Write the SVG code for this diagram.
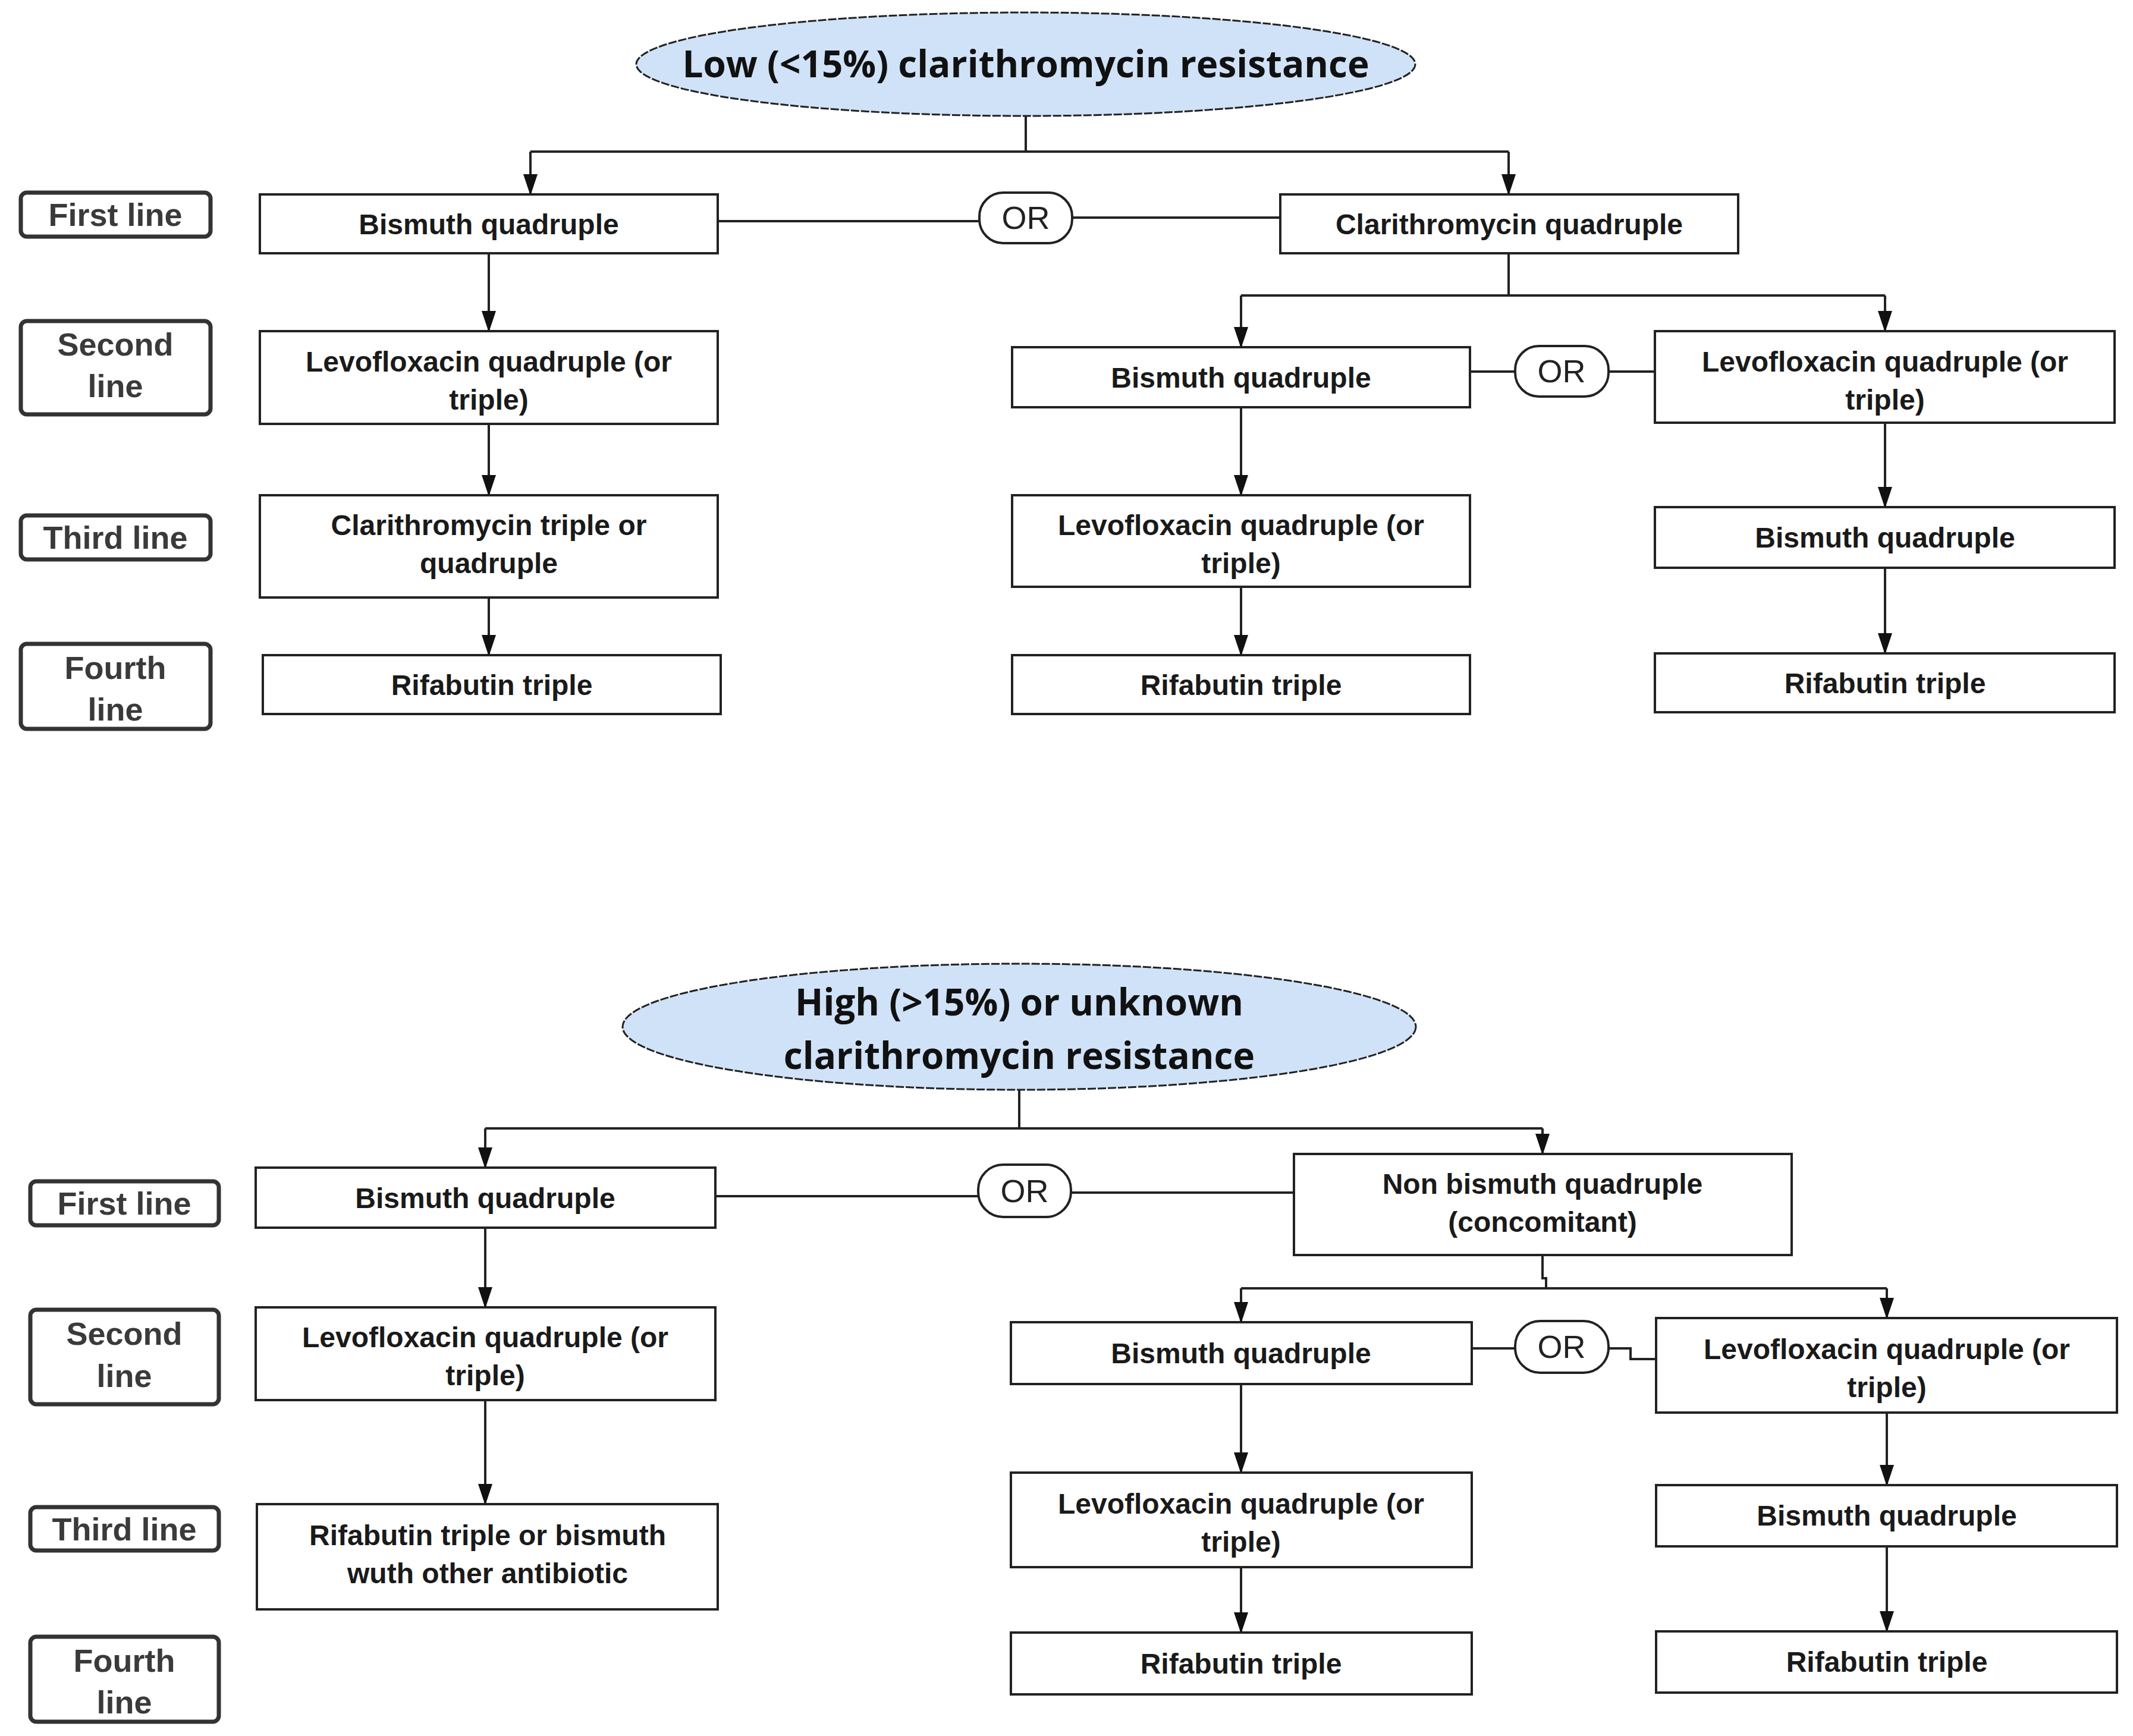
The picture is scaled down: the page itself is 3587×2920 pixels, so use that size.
<svg xmlns="http://www.w3.org/2000/svg" width="3587" height="2920" viewBox="0 0 3587 2920">
<style>
.box{fill:#fff;stroke:#222;stroke-width:4}
.lbl{fill:#fff;stroke:#333;stroke-width:7}
.or{fill:#fff;stroke:#222;stroke-width:4}
.ell{fill:#cfe2f8;stroke:#222;stroke-width:3;stroke-dasharray:14 3}
.t{font-family:"Liberation Sans",Arial,sans-serif;font-weight:bold;font-size:48px;fill:#1a1a1a;text-anchor:middle}
.lt{font-family:"Liberation Sans",Arial,sans-serif;font-weight:bold;font-size:54px;fill:#3a3a3a;text-anchor:middle}
.ot{font-family:"Liberation Sans",Arial,sans-serif;font-size:54px;fill:#222;text-anchor:middle}
.et{font-family:"Open Sans","Liberation Sans",sans-serif;font-weight:bold;font-size:62px;fill:#111;text-anchor:middle}
.c{fill:none;stroke:#222;stroke-width:4}
.a{marker-end:url(#ah)}
</style>
<defs>
<marker id="ah" markerUnits="userSpaceOnUse" markerWidth="24" markerHeight="36" refX="12" refY="34" orient="auto-start-reverse" viewBox="0 0 24 36">
<path d="M0,0 L24,0 L12,36 Z" fill="#111" transform="rotate(-90 12 18) translate(0 0)"/>
</marker>
</defs>
<defs>
<marker id="ah2" markerUnits="userSpaceOnUse" markerWidth="36" markerHeight="24" refX="34" refY="12" orient="auto" viewBox="0 0 36 24">
<path d="M0,0 L36,12 L0,24 Z" fill="#111"/>
</marker>
</defs>
<style>.a{marker-end:url(#ah2)}</style>

<g id="connectors">
<path class="c" d="M1725,196 V255 M892,255 H2537"/>
<path class="c a" d="M892,255 V327"/>
<path class="c a" d="M2537,255 V327"/>
<path class="c" d="M1207,372 H1647 M1803,366 H2153"/>
<path class="c" d="M2537,426 V497 M2087,497 H3170"/>
<path class="c a" d="M2087,497 V584"/>
<path class="c a" d="M3170,497 V557"/>
<path class="c" d="M2472,625 H2548 M2705,625 H2783"/>
<path class="c a" d="M822,426 V557"/>
<path class="c a" d="M822,713 V833"/>
<path class="c a" d="M822,1005 V1102"/>
<path class="c a" d="M2087,685 V833"/>
<path class="c a" d="M2087,987 V1102"/>
<path class="c a" d="M3170,711 V853"/>
<path class="c a" d="M3170,955 V1099"/>

<path class="c" d="M1714,1833 V1898 M816,1898 H2594"/>
<path class="c a" d="M816,1898 V1964"/>
<path class="c a" d="M2594,1898 V1941"/>
<path class="c" d="M1203,2012 H1645 M1801,2006 H2176"/>
<path class="c" d="M2594,2111 V2150 H2600 V2167 M2087,2167 H3173"/>
<path class="c a" d="M2087,2167 V2224"/>
<path class="c a" d="M3173,2167 V2217"/>
<path class="c" d="M2475,2268 H2548 M2705,2268 H2742 V2286 H2785"/>
<path class="c a" d="M816,2065 V2199"/>
<path class="c a" d="M816,2355 V2530"/>
<path class="c a" d="M2087,2328 V2477"/>
<path class="c a" d="M2087,2636 V2746"/>
<path class="c a" d="M3173,2376 V2498"/>
<path class="c a" d="M3173,2601 V2744"/>
</g>

<g id="title-low"><ellipse class="ell" cx="1725" cy="108" rx="655" ry="87"/><text class="et" x="1725" y="130">Low (&lt;15%) clarithromycin resistance</text></g>
<g id="lbl1-first"><rect class="lbl" x="35" y="324" width="319" height="74" rx="10"/><text class="lt" x="194" y="380">First line</text></g>
<g id="lbl1-second"><rect class="lbl" x="35" y="540" width="319" height="157" rx="10"/><text class="lt" x="194" y="598">Second</text><text class="lt" x="194" y="668">line</text></g>
<g id="lbl1-third"><rect class="lbl" x="35" y="867" width="319" height="74" rx="10"/><text class="lt" x="194" y="923">Third line</text></g>
<g id="lbl1-fourth"><rect class="lbl" x="35" y="1083" width="319" height="143" rx="10"/><text class="lt" x="194" y="1142">Fourth</text><text class="lt" x="194" y="1212">line</text></g>

<g id="a1"><rect class="box" x="437" y="327" width="770" height="99"/><text class="t" x="822" y="394">Bismuth quadruple</text></g>
<g id="a2"><rect class="box" x="437" y="557" width="770" height="156"/><text class="t" x="822" y="625">Levofloxacin quadruple (or</text><text class="t" x="822" y="689">triple)</text></g>
<g id="a3"><rect class="box" x="437" y="833" width="770" height="172"/><text class="t" x="822" y="900">Clarithromycin triple  or</text><text class="t" x="822" y="964">quadruple</text></g>
<g id="a4"><rect class="box" x="442" y="1102" width="770" height="99"/><text class="t" x="827" y="1169">Rifabutin triple</text></g>
<g id="b1"><rect class="box" x="2153" y="327" width="770" height="99"/><text class="t" x="2538" y="394">Clarithromycin quadruple</text></g>
<g id="or1"><rect class="or" x="1647" y="324" width="156" height="85" rx="40"/><text class="ot" x="1725" y="385">OR</text></g>
<g id="c1"><rect class="box" x="1702" y="584" width="770" height="101"/><text class="t" x="2087" y="652">Bismuth quadruple</text></g>
<g id="or2"><rect class="or" x="2548" y="582" width="157" height="85" rx="40"/><text class="ot" x="2626" y="643">OR</text></g>
<g id="c2"><rect class="box" x="1702" y="833" width="770" height="154"/><text class="t" x="2087" y="900">Levofloxacin quadruple (or</text><text class="t" x="2087" y="964">triple)</text></g>
<g id="c3"><rect class="box" x="1702" y="1102" width="770" height="99"/><text class="t" x="2087" y="1169">Rifabutin triple</text></g>
<g id="d1"><rect class="box" x="2783" y="557" width="773" height="154"/><text class="t" x="3170" y="625">Levofloxacin quadruple (or</text><text class="t" x="3170" y="689">triple)</text></g>
<g id="d2"><rect class="box" x="2783" y="853" width="773" height="102"/><text class="t" x="3170" y="921">Bismuth quadruple</text></g>
<g id="d3"><rect class="box" x="2783" y="1099" width="773" height="99"/><text class="t" x="3170" y="1166">Rifabutin triple</text></g>

<g id="title-high"><ellipse class="ell" cx="1714" cy="1727" rx="667" ry="106"/><text class="et" x="1714" y="1708">High (&gt;15%) or unknown</text><text class="et" x="1714" y="1798">clarithromycin resistance</text></g>
<g id="lbl2-first"><rect class="lbl" x="51" y="1987" width="317" height="74" rx="10"/><text class="lt" x="209" y="2043">First line</text></g>
<g id="lbl2-second"><rect class="lbl" x="51" y="2203" width="317" height="159" rx="10"/><text class="lt" x="209" y="2262">Second</text><text class="lt" x="209" y="2333">line</text></g>
<g id="lbl2-third"><rect class="lbl" x="51" y="2535" width="317" height="73" rx="10"/><text class="lt" x="209" y="2591">Third line</text></g>
<g id="lbl2-fourth"><rect class="lbl" x="51" y="2753" width="317" height="143" rx="10"/><text class="lt" x="209" y="2812">Fourth</text><text class="lt" x="209" y="2882">line</text></g>

<g id="e1"><rect class="box" x="430" y="1964" width="773" height="101"/><text class="t" x="816" y="2032">Bismuth quadruple</text></g>
<g id="e2"><rect class="box" x="430" y="2199" width="773" height="156"/><text class="t" x="816" y="2266">Levofloxacin quadruple (or</text><text class="t" x="816" y="2330">triple)</text></g>
<g id="e3"><rect class="box" x="432" y="2530" width="775" height="177"/><text class="t" x="820" y="2599">Rifabutin triple or bismuth</text><text class="t" x="820" y="2663">wuth other antibiotic</text></g>
<g id="or3"><rect class="or" x="1645" y="1959" width="156" height="88" rx="42"/><text class="ot" x="1723" y="2022">OR</text></g>
<g id="f1"><rect class="box" x="2176" y="1941" width="837" height="170"/><text class="t" x="2594" y="2008">Non bismuth quadruple</text><text class="t" x="2594" y="2072">(concomitant)</text></g>
<g id="g1"><rect class="box" x="1700" y="2224" width="775" height="104"/><text class="t" x="2087" y="2293">Bismuth quadruple</text></g>
<g id="or4"><rect class="or" x="2548" y="2222" width="157" height="87" rx="42"/><text class="ot" x="2626" y="2284">OR</text></g>
<g id="g2"><rect class="box" x="1700" y="2477" width="775" height="159"/><text class="t" x="2087" y="2546">Levofloxacin quadruple (or</text><text class="t" x="2087" y="2610">triple)</text></g>
<g id="g3"><rect class="box" x="1700" y="2746" width="775" height="104"/><text class="t" x="2087" y="2815">Rifabutin triple</text></g>
<g id="h1"><rect class="box" x="2785" y="2217" width="775" height="159"/><text class="t" x="3173" y="2286">Levofloxacin quadruple (or</text><text class="t" x="3173" y="2350">triple)</text></g>
<g id="h2"><rect class="box" x="2785" y="2498" width="775" height="103"/><text class="t" x="3173" y="2566">Bismuth quadruple</text></g>
<g id="h3"><rect class="box" x="2785" y="2744" width="775" height="103"/><text class="t" x="3173" y="2812">Rifabutin triple</text></g>
</svg>
